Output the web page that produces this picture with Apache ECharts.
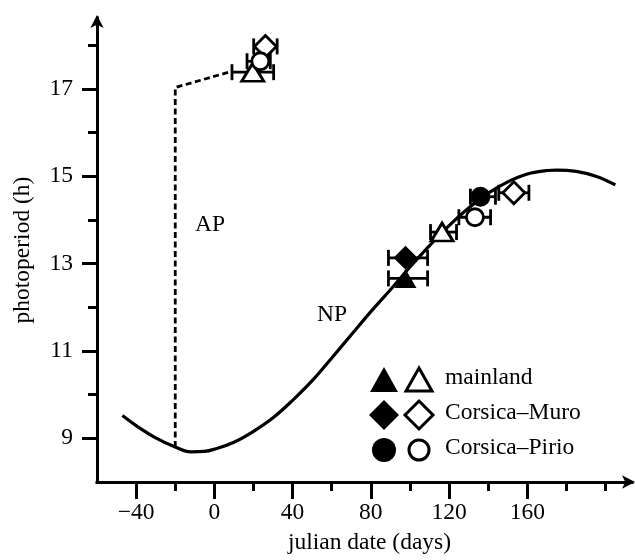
<!DOCTYPE html>
<html><head><meta charset="utf-8">
<script src="https://cdn.jsdelivr.net/npm/echarts@6/dist/echarts.min.js"></script>
<style>html,body{margin:0;padding:0;background:#fff}#c{width:635px;height:560px}</style>
</head><body><div id="c"></div>
<script>
// natural photoperiod curve (julian day, hours)
const curveX = [-47,-40,-30,-20,-12,-5,0,10,20,30,40,50,60,70,80,90,100,110,120,130,140,150,160,170,175,185,195,205];
const curveY = [9.52,9.29,9.01,8.80,8.69,8.70,8.75,8.91,9.16,9.47,9.87,10.32,10.84,11.37,11.90,12.40,12.92,13.41,13.87,14.27,14.61,14.87,15.05,15.13,15.14,15.11,15.0,14.8];
// artificial photoperiod (dashed)
const apX = [-20,-20,9];
const apY = [8.80,17.03,17.4];
// groups: [julian date, photoperiod, lower date, upper date]
const mainlandFilled = [[97.7,12.66,89,109]];
const mainlandOpen   = [[19.6,17.38,9,30.3],[116.4,13.72,110.5,123.8]];
const muroFilled     = [[97.7,13.13,89,109]];
const muroOpen       = [[26.1,17.97,20.1,32.1],[153.1,14.62,145.4,160.8]];
const pirioFilled    = [[136,14.53,130.9,143.7]];
const pirioOpen      = [[23.5,17.63,16.7,28.6],[133.2,14.06,125,141.2]];
// ticks
const xMajor = [-40,0,40,80,120,160];
const xMinor = [-20,20,60,100,140,180,200];
const yMajor = [9,11,13,15,17];
const yMinor = [10,12,14,16,18];
const legendNames = ['mainland','Corsica\u2013Muro','Corsica\u2013Pirio'];

const FONT = '"Liberation Serif", "Times New Roman", serif';
const FS = 23.5;
const chart = echarts.init(document.getElementById('c'), null, {renderer:'canvas'});

const allGroups = [mainlandFilled, mainlandOpen, muroFilled, muroOpen, pirioFilled, pirioOpen];
const barData = [];
allGroups.forEach(g => g.forEach(p => barData.push([p[2], p[3], p[1]])));

function renderBar(params, api){
  const lo = api.coord([api.value(0), api.value(2)]);
  const hi = api.coord([api.value(1), api.value(2)]);
  const h = 8;
  const st = {stroke:'#000', lineWidth:2.8};
  return {type:'group', children:[
    {type:'line', shape:{x1:lo[0],y1:lo[1],x2:hi[0],y2:hi[1]}, style:st},
    {type:'line', shape:{x1:lo[0],y1:lo[1]-h,x2:lo[0],y2:lo[1]+h}, style:st},
    {type:'line', shape:{x1:hi[0],y1:hi[1]-h,x2:hi[0],y2:hi[1]+h}, style:st}
  ]};
}

function scatter(data, symbol, size, filled){
  return {
    type:'scatter', data:data.map(p=>[p[0],p[1]]), symbol:symbol, symbolSize:size, z:5,
    itemStyle: filled ? {color:'#000', borderColor:'#000', borderWidth:0, opacity:1}
                      : {color:'#fff', borderColor:'#000', borderWidth:2.8, opacity:1},
    emphasis:{disabled:true}, silent:true
  };
}

const tickStyle = {color:'#000', width:3};
const fmt = v => v < 0 ? '\u2212' + Math.abs(v) : String(v);

// legend graphics
const lg = [];
const rows = [380, 415, 450];
const cx1 = 384, cx2 = 419, tx = 445;
function tri(cx, cy){ return [[cx-14,cy+12],[cx,cy-13],[cx+14,cy+12]]; }
function dia(cx, cy){ return [[cx,cy-15],[cx+15,cy],[cx,cy+15],[cx-15,cy]]; }
function triO(cx, cy){ return [[cx-13,cy+11],[cx,cy-12],[cx+13,cy+11]]; }
function diaO(cx, cy){ return [[cx,cy-14],[cx+14,cy],[cx,cy+14],[cx-14,cy]]; }
lg.push({type:'polygon', shape:{points:tri(cx1,rows[0])}, style:{fill:'#000'}});
lg.push({type:'polygon', shape:{points:triO(cx2,rows[0])}, style:{fill:'#fff', stroke:'#000', lineWidth:3}});
lg.push({type:'polygon', shape:{points:dia(cx1,rows[1])}, style:{fill:'#000'}});
lg.push({type:'polygon', shape:{points:diaO(cx2,rows[1])}, style:{fill:'#fff', stroke:'#000', lineWidth:3}});
lg.push({type:'circle', shape:{cx:cx1, cy:rows[2], r:12}, style:{fill:'#000'}});
lg.push({type:'circle', shape:{cx:cx2, cy:rows[2], r:10}, style:{fill:'#fff', stroke:'#000', lineWidth:3}});
legendNames.forEach((n,i)=>{
  lg.push({type:'text', x:tx, y:rows[i]-2, style:{text:n, font:FS+'px '+FONT, fill:'#000', verticalAlign:'middle', align:'left'}});
});
lg.push({type:'text', x:210, y:225, style:{text:'AP', font:FS+'px '+FONT, fill:'#000', verticalAlign:'middle', align:'center'}});
lg.push({type:'text', x:332, y:315, style:{text:'NP', font:FS+'px '+FONT, fill:'#000', verticalAlign:'middle', align:'center'}});

const option = {
  backgroundColor:'#fff',
  animation:false,
  grid:{left:97, top:18, width:535, height:468, containLabel:false},
  xAxis:[
    {type:'value', min:-60, max:213.5, position:'bottom',
     axisLine:{show:true, onZero:false, lineStyle:{color:'#000', width:3, cap:'square'}, symbol:['none','arrow'], symbolSize:[10,13], symbolOffset:[0,3]},
     axisTick:{show:true, customValues:xMajor, length:17, lineStyle:tickStyle},
     axisLabel:{show:true, customValues:xMajor, formatter:fmt, color:'#000', fontFamily:FONT, fontSize:FS, margin:19},
     splitLine:{show:false},
     name:'julian date (days)', nameLocation:'middle', nameGap:49,
     nameTextStyle:{color:'#000', fontFamily:FONT, fontSize:FS, padding:[0,0,0,10]}},
    {type:'value', min:-60, max:213.5, position:'bottom',
     axisLine:{show:false, onZero:false},
     axisTick:{show:true, customValues:xMinor, length:9, lineStyle:tickStyle},
     axisLabel:{show:false}, splitLine:{show:false}}
  ],
  yAxis:[
    {type:'value', min:8, max:18.62, position:'left',
     axisLine:{show:true, onZero:false, lineStyle:{color:'#000', width:3, cap:'square'}, symbol:['none','arrow'], symbolSize:[10,13], symbolOffset:[0,3]},
     axisTick:{show:true, customValues:yMajor, length:15, lineStyle:tickStyle},
     axisLabel:{show:true, customValues:yMajor, color:'#000', fontFamily:FONT, fontSize:FS, margin:24},
     splitLine:{show:false},
     name:'photoperiod (h)', nameLocation:'middle', nameGap:62, nameRotate:90,
     nameTextStyle:{color:'#000', fontFamily:FONT, fontSize:FS}},
    {type:'value', min:8, max:18.62, position:'left',
     axisLine:{show:false, onZero:false},
     axisTick:{show:true, customValues:yMinor, length:9, lineStyle:tickStyle},
     axisLabel:{show:false}, splitLine:{show:false}}
  ],
  series:[
    {type:'line', data:curveX.map((x,i)=>[x,curveY[i]]), smooth:0.4, showSymbol:false, symbol:'none',
     lineStyle:{color:'#000', width:3.2}, silent:true, z:2},
    {type:'line', data:apX.map((x,i)=>[x,apY[i]]), showSymbol:false, symbol:'none',
     lineStyle:{color:'#000', width:2.8, type:[6,3.5]}, silent:true, z:2},
    {type:'custom', data:barData, renderItem:renderBar, encode:{x:[0,1], y:2}, z:3, silent:true},
    scatter(mainlandFilled,'triangle',[22,19],true),
    scatter(mainlandOpen,'triangle',[22,18],false),
    scatter(muroFilled,'diamond',[24,24],true),
    scatter(muroOpen,'diamond',[22,22],false),
    scatter(pirioFilled,'circle',20,true),
    scatter(pirioOpen,'circle',17,false)
  ],
  graphic:lg
};
chart.setOption(option);
</script></body></html>
